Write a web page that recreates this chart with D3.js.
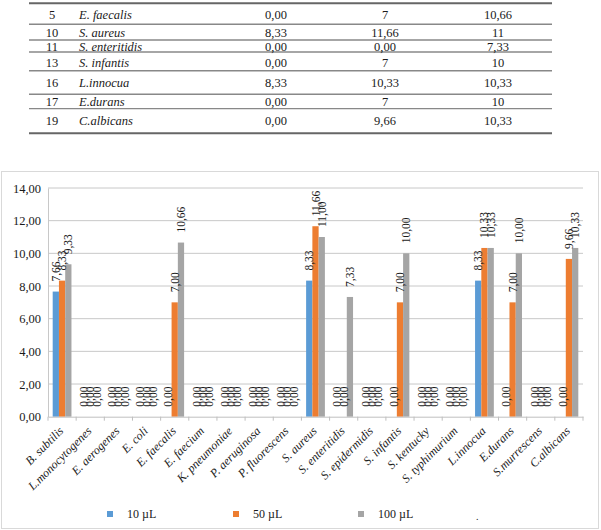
<!DOCTYPE html>
<html>
<head>
<meta charset="utf-8">
<script src="https://cdn.jsdelivr.net/npm/d3@7"></script>
<style>
  html, body { margin: 0; padding: 0; background: #fff; }
  svg { display: block; }
</style>
</head>
<body>
<svg id="chart" width="601" height="530"></svg>
<script>
// ---- Table data ----
const tableIds   = ["5", "10", "11", "13", "16", "17", "19"];
const tableNames = ["E. faecalis", "S. aureus", "S. enteritidis", "S. infantis", "L.innocua", "E.durans", "C.albicans"];
const table10    = ["0,00", "8,33", "0,00", "0,00", "8,33", "0,00", "0,00"];
const table50    = ["7", "11,66", "0,00", "7", "10,33", "7", "9,66"];
const table100   = ["10,66", "11", "7,33", "10", "10,33", "10", "10,33"];

// ---- Chart data ----
const categories = ["B. subtilis", "L.monocytogenes", "E. aerogenes", "E. coli", "E. faecalis",
  "E. faecium", "K. pneumoniae", "P. aeruginosa", "P. fluorescens", "S. aureus",
  "S. enteritidis", "S. epidermidis", "S. infantis", "S. kentucky", "S. typhimurium",
  "L.innocua", "E.durans", "S.murrescens", "C.albicans"];
const seriesNames = ["10 µL", "50 µL", "100 µL"];
const values10  = [7.66, 0, 0, 0, 0,    0, 0, 0, 0, 8.33,  0,    0, 0,  0, 0, 8.33,  0, 0, 0];
const values50  = [8.33, 0, 0, 0, 7,    0, 0, 0, 0, 11.66, 0,    0, 7,  0, 0, 10.33, 7, 0, 9.66];
const values100 = [9.33, 0, 0, 0, 10.66,0, 0, 0, 0, 11,    7.33, 0, 10, 0, 0, 10.33, 10,0, 10.33];
const yTicks = [0, 2, 4, 6, 8, 10, 12, 14];
const colors = ["#5B9BD5", "#ED7D31", "#A5A5A5"];

const FONT = "'Liberation Serif', 'DejaVu Serif', serif";
const INK = "#1a1a1a";
const svg = d3.select("#chart").attr("font-family", FONT);
const fmt = v => d3.format(".2f")(v).replace(".", ",");

// ---- Table ----
const rowCenters = [15, 32.3, 46.7, 62.3, 82.7, 101.7, 120.7];
const rowLines = [3.3, 24.3, 40, 52, 70.7, 94.3, 108.6, 133.3];
const tg = svg.append("g");
rowLines.forEach((yy, i) => {
  const edge = (i === 0 || i === rowLines.length - 1);
  tg.append("line").attr("x1", 29).attr("x2", 552).attr("y1", yy).attr("y2", yy)
    .attr("stroke", edge ? "#666" : "#888").attr("stroke-width", edge ? 2 : 1.4);
});
const cols = [
  {data: tableIds, x: 52, anchor: "middle", italic: false},
  {data: tableNames, x: 79, anchor: "start", italic: true},
  {data: table10, x: 276, anchor: "middle", italic: false},
  {data: table50, x: 385, anchor: "middle", italic: false},
  {data: table100, x: 498, anchor: "middle", italic: false}
];
cols.forEach(c => {
  tg.selectAll(null).data(c.data).enter().append("text")
    .attr("x", c.x).attr("y", (d, i) => rowCenters[i])
    .attr("dy", "0.35em")
    .attr("text-anchor", c.anchor)
    .attr("font-family", FONT)
    .attr("font-size", 12.5)
    .attr("fill", INK)
    .attr("font-style", c.italic ? "italic" : "normal")
    .text(d => d);
});

// ---- Chart frame ----
svg.append("rect").attr("x", 1.5).attr("y", 171.5).attr("width", 597).attr("height", 357)
  .attr("fill", "#fff").attr("stroke", "#D9D9D9").attr("stroke-width", 1);

const x0 = d3.scaleBand().domain(categories).range([48, 583]).padding(0);
const x1 = d3.scaleBand().domain([0, 1, 2]).range([0, x0.bandwidth()]).paddingInner(0).paddingOuter(0.75);
const y = d3.scaleLinear().domain([0, 14]).range([416.7, 188]);

// gridlines
svg.append("g").selectAll("line").data(yTicks.slice(1)).enter().append("line")
  .attr("x1", 48).attr("x2", 583).attr("y1", d => y(d)).attr("y2", d => y(d))
  .attr("stroke", "#C8C8C8").attr("stroke-width", 1);

// y axis
const yAxis = svg.append("g").attr("transform", "translate(48,0)")
  .call(d3.axisLeft(y).tickValues(yTicks).tickFormat(fmt).tickSize(0).tickPadding(7));
yAxis.attr("font-family", FONT).attr("font-size", 12.5);
yAxis.select(".domain").attr("stroke", "#C8C8C8");
yAxis.selectAll("text").attr("font-family", FONT).attr("fill", INK);

// bars
const seriesData = [values10, values50, values100];
const groups = svg.append("g").selectAll("g").data(categories).enter().append("g")
  .attr("transform", d => `translate(${x0(d)},0)`);
groups.selectAll("rect").data((d, i) => seriesData.map((s, k) => ({k, v: s[i]}))).enter().append("rect")
  .attr("x", d => x1(d.k)).attr("width", x1.bandwidth())
  .attr("y", d => y(d.v)).attr("height", d => y(0) - y(d.v))
  .attr("fill", d => colors[d.k]);

// x axis
const xAxis = svg.append("g").attr("transform", `translate(0,${y(0)})`)
  .call(d3.axisBottom(x0).tickSize(0).tickFormat(""));
xAxis.select(".domain").attr("stroke", "#BFBFBF");
svg.append("g").selectAll("line").data(d3.range(categories.length + 1)).enter().append("line")
  .attr("x1", i => 48 + i * x0.step()).attr("x2", i => 48 + i * x0.step())
  .attr("y1", y(0)).attr("y2", y(0) + 4).attr("stroke", "#BFBFBF");

// data labels
groups.selectAll("text").data((d, i) => seriesData.map((s, k) => ({k, v: s[i]}))).enter().append("text")
  .attr("transform", d => `translate(${x1(d.k) + x1.bandwidth() / 2},${y(d.v) - 10}) rotate(-90)`)
  .attr("dy", "0.35em")
  .attr("text-anchor", "start")
  .attr("font-family", FONT)
  .attr("font-size", 11.5)
  .attr("fill", INK)
  .text(d => fmt(d.v));

// category labels
svg.append("g").selectAll("text").data(categories).enter().append("text")
  .attr("transform", d => `translate(${x0(d) + x0.bandwidth() / 2 + 2},${y(0) + 15}) rotate(-45)`)
  .attr("text-anchor", "end")
  .attr("font-family", FONT)
  .attr("font-size", 12)
  .attr("font-style", "italic")
  .attr("fill", INK)
  .text(d => d);

// legend
const legendX = [110, 236, 361];
const lg = svg.append("g").selectAll("g").data(seriesNames).enter().append("g")
  .attr("transform", (d, i) => `translate(${legendX[i]},514)`);
lg.append("rect").attr("x", -3).attr("y", -3).attr("width", 6).attr("height", 6)
  .attr("fill", (d, i) => colors[i]);
lg.append("text").attr("x", 17).attr("y", 0).attr("dy", "0.3em")
  .attr("font-family", FONT).attr("font-size", 12).attr("fill", INK).text(d => d);
svg.append("text").attr("x", 476).attr("y", 520).attr("font-family", FONT).attr("font-size", 10).attr("fill", INK).text(".");
</script>
</body>
</html>
